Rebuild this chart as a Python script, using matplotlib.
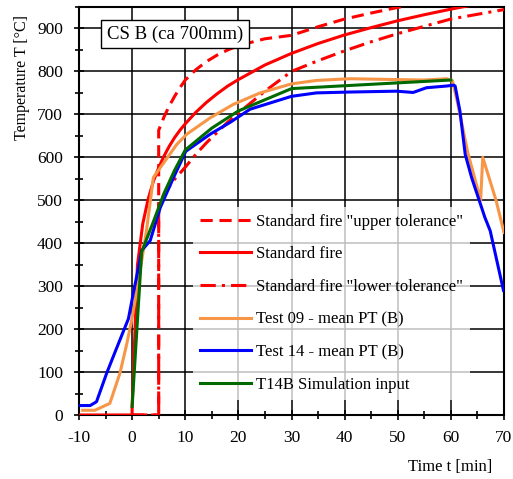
import matplotlib
matplotlib.use('Agg')
import matplotlib.pyplot as plt

plt.rcParams['font.family'] = ['Liberation Serif', 'DejaVu Serif']
plt.rcParams['axes.unicode_minus'] = False

# Standard fire (ISO 834)
std_t = [-10, 0, 0, 1, 2, 3, 4, 5, 6, 7, 8, 9, 10, 12, 14, 16, 18, 20, 25, 30,
         35, 40, 45, 50, 55, 60, 65, 70]
std_T = [0, 0, 20, 349, 445, 502, 544, 576, 603, 626, 646, 663, 678, 705, 728,
         748, 766, 781, 815, 842, 865, 885, 902, 918, 932, 945, 957, 968]

# upper / lower tolerance
tol_t = [0, 5, 5, 6, 7, 8, 9, 10, 12, 14, 16, 18, 20, 25, 30, 35, 40, 45, 50,
         55, 60, 65, 70]
upper_T = [0, 0, 663, 694, 720, 742, 762, 780, 804, 823, 838, 850, 860, 876,
           884, 904, 922, 936, 949, 960, 969, 981, 993]
lower_T = [0, 0, 490, 513, 532, 549, 563, 577, 607, 634, 658, 682, 703, 754,
           800, 825, 848, 869, 888, 905, 922, 933, 944]

# Test 09 - mean PT (B)
t09_t = [-9.3, -7, -4.2, -2.3, -1.0, -0.1, 1.2, 2.7, 4.0, 5.3, 8.4, 10.3,
         14.7, 19.0, 24.1, 30, 34.7, 41, 49.8, 55, 59.2, 60.3, 61.2, 62.2,
         63.2, 64.3, 65.6, 66.0, 68.5, 70]
t09_T = [11, 11, 27, 97, 166, 220, 313, 429, 553, 576, 630, 654, 692, 723,
         750, 771, 779, 783, 781, 780, 783, 778, 730, 670, 610, 560, 500, 600,
         500, 425]

# Test 14 - mean PT (B)
t14_t = [-10, -7.9, -6.7, -4.8, -3.2, -0.7, 0.2, 1.2, 1.8, 3.4, 5.3, 7.8,
         10.1, 14.7, 18.4, 22.2, 30, 34.7, 41, 49.8, 52.9, 55.4, 59.2, 60.5,
         60.8, 61.7, 62.7, 63.9, 66.4, 67.4, 69.9]
t14_T = [22, 22, 31, 97, 147, 224, 282, 344, 383, 406, 483, 553, 614, 654,
         681, 712, 742, 750, 752, 754, 751, 762, 766, 768, 766, 708, 607, 553,
         460, 429, 290]

# T14B Simulation input
sim_t = [0, 1.8, 4, 6, 8, 10, 15, 20, 30, 60]
sim_T = [20, 380, 450, 516, 570, 617, 668, 708, 760, 780]

fig = plt.figure(figsize=(5.13, 4.79), dpi=100)
ax = fig.add_axes([79 / 513, 64 / 479, 425 / 513, 408 / 479])

lw = 2.2
ax.plot(tol_t, upper_T, color='#FF0000', lw=lw, dashes=(4, 2.2),
        label='Standard fire "upper tolerance"', zorder=3)
ax.plot(std_t, std_T, color='#FF0000', lw=lw, label='Standard fire', zorder=4)
ax.plot(tol_t, lower_T, color='#FF0000', lw=lw, dashes=(5, 2, 1, 2),
        label='Standard fire "lower tolerance"', zorder=3)
ax.plot(t09_t, t09_T, color='#F79646', lw=lw, label='Test 09 - mean PT (B)', zorder=5)
ax.plot(t14_t, t14_T, color='#0000FF', lw=lw, label='Test 14 - mean PT (B)', zorder=6)
ax.plot(sim_t, sim_T, color='#006A00', lw=lw, label='T14B Simulation input', zorder=7)

ax.set_xlim(-10, 70)
ax.set_ylim(0, 950)
ax.set_xticks(range(-10, 71, 10))
ax.set_xticks(range(-5, 70, 10), minor=True)
ax.set_yticks(range(0, 901, 100))
ax.set_yticks(range(50, 951, 100), minor=True)
ax.grid(True, which='major', color='black', lw=1.1)
ax.set_axisbelow(True)
ax.tick_params(which='both', direction='inout', labelsize=12.5, width=1.2)
ax.tick_params(which='major', length=7)
ax.tick_params(which='minor', length=6)
ax.tick_params(axis='x', which='major', pad=7)
ax.tick_params(axis='y', which='major', pad=8)
for s in ax.spines.values():
    s.set_linewidth(1.5)

fig.text(492 / 513, 1 - 467 / 479, 'Time t [min]', ha='right', va='center', fontsize=12)
fig.text(22 / 513, 1 - 78 / 479, 'Temperature T [°C]', rotation=90,
         ha='center', va='center', fontsize=11.5)

ax.text(0.226, 0.934, 'CS B (ca 700mm)', transform=ax.transAxes, fontsize=13.5,
        ha='center', va='center', zorder=10,
        bbox=dict(boxstyle='square,pad=0.3', fc='white', ec='black', lw=1.0))

leg = ax.legend(loc='upper left', bbox_to_anchor=(0.268, 0.51), fontsize=12,
                handlelength=3.1, handletextpad=0.3, labelspacing=1.0,
                borderaxespad=0, borderpad=0.4, framealpha=0.75,
                edgecolor='none', fancybox=False)
leg.set_zorder(8)

fig.savefig('out.png', dpi=100)
